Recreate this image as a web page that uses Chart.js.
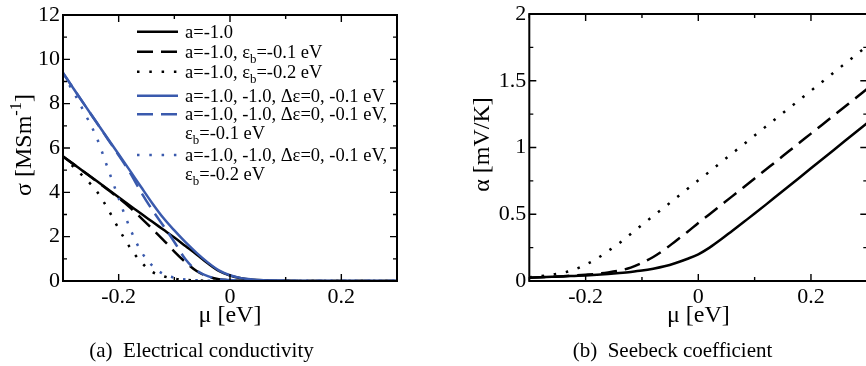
<!DOCTYPE html>
<html>
<head>
<meta charset="utf-8">
<script src="https://cdn.jsdelivr.net/npm/chart.js@4/dist/chart.umd.min.js"></script>
<style>
  html, body { margin: 0; padding: 0; background: #fff; overflow: hidden; width: 866px; height: 366px; }
  canvas { position: absolute; top: 0; }
  #ca { left: 0; }
  #cb { left: 433px; }
</style>
</head>
<body>
<canvas id="ca" width="433" height="366"></canvas>
<canvas id="cb" width="440" height="366"></canvas>
<script>
// chemical potential grid [eV]
const mu = [-0.30, -0.28, -0.26, -0.24, -0.22, -0.20, -0.18, -0.16, -0.14, -0.12, -0.10,
            -0.08, -0.06, -0.04, -0.02, 0.00, 0.02, 0.04, 0.06, 0.08, 0.10,
            0.12, 0.14, 0.16, 0.18, 0.20, 0.22, 0.24, 0.26, 0.28, 0.30];

// electrical conductivity sigma [MS/m]
const sigmaA    = [5.62, 5.25, 4.88, 4.52, 4.15, 3.78, 3.41, 3.04, 2.68, 2.32, 1.96,
                   1.58, 1.20, 0.80, 0.45, 0.24, 0.12, 0.06, 0.03, 0.015, 0.008,
                   0.004, 0.002, 0.001, 0, 0, 0, 0, 0, 0, 0];
const sigmaAb1  = [5.62, 5.25, 4.88, 4.51, 4.13, 3.74, 3.32, 2.85, 2.36, 1.86, 1.33,
                   0.85, 0.45, 0.20, 0.08, 0.03, 0.01, 0, 0, 0, 0,
                   0, 0, 0, 0, 0, 0, 0, 0, 0, 0];
const sigmaAb2  = [5.62, 5.12, 4.62, 4.07, 3.28, 2.36, 1.52, 0.86, 0.42, 0.22, 0.10,
                   0.05, 0.025, 0.012, 0.005, 0, 0, 0, 0, 0, 0,
                   0, 0, 0, 0, 0, 0, 0, 0, 0, 0];
const sigmaB    = [9.38, 8.64, 7.90, 7.17, 6.44, 5.72, 4.99, 4.25, 3.52, 2.85, 2.28,
                   1.75, 1.27, 0.84, 0.48, 0.26, 0.13, 0.07, 0.035, 0.018, 0.009,
                   0.004, 0.002, 0.001, 0, 0, 0, 0, 0, 0, 0];
const sigmaBb1  = [9.38, 8.64, 7.90, 7.16, 6.42, 5.67, 4.90, 4.02, 3.22, 2.50, 1.76,
                   0.98, 0.48, 0.22, 0.09, 0.04, 0.02, 0.01, 0, 0, 0,
                   0, 0, 0, 0, 0, 0, 0, 0, 0, 0];
const sigmaBb2  = [9.30, 8.47, 7.52, 6.50, 5.12, 3.73, 2.40, 1.35, 0.70, 0.32, 0.15,
                   0.07, 0.035, 0.015, 0.007, 0, 0, 0, 0, 0, 0,
                   0, 0, 0, 0, 0, 0, 0, 0, 0, 0];

// Seebeck coefficient alpha [mV/K]
const alphaA    = [0.025, 0.028, 0.031, 0.034, 0.038, 0.042, 0.047, 0.053, 0.060, 0.068, 0.078,
                   0.092, 0.110, 0.135, 0.165, 0.200, 0.250, 0.310, 0.375, 0.440, 0.505,
                   0.572, 0.640, 0.708, 0.776, 0.844, 0.912, 0.980, 1.048, 1.116, 1.184];
const alphaAb1  = [0.025, 0.028, 0.032, 0.036, 0.041, 0.047, 0.054, 0.064, 0.078, 0.100, 0.135,
                   0.180, 0.235, 0.300, 0.365, 0.435, 0.500, 0.567, 0.634, 0.700, 0.768,
                   0.835, 0.902, 0.970, 1.037, 1.104, 1.171, 1.238, 1.305, 1.372, 1.440];
const alphaAb2  = [0.028, 0.036, 0.048, 0.062, 0.085, 0.122, 0.168, 0.225, 0.284, 0.352, 0.420,
                   0.487, 0.553, 0.620, 0.687, 0.754, 0.820, 0.888, 0.955, 1.022, 1.090,
                   1.157, 1.224, 1.291, 1.358, 1.425, 1.492, 1.560, 1.627, 1.694, 1.760];

// legend labels ("_x" is a subscript)
const labels = [
  'a=-1.0',
  'a=-1.0, ε_b=-0.1 eV',
  'a=-1.0, ε_b=-0.2 eV',
  'a=-1.0, -1.0, Δε=0, -0.1 eV',
  ['a=-1.0, -1.0, Δε=0, -0.1 eV,', 'ε_b=-0.1 eV'],
  ['a=-1.0, -1.0, Δε=0, -0.1 eV,', 'ε_b=-0.2 eV']
];

// labelled tick values
const xTickLabels = [-0.2, 0, 0.2];
const sigmaTickLabels = [0, 2, 4, 6, 8, 10, 12];
const alphaTickLabels = [0, 0.5, 1, 1.5, 2];

const SERIF = '"Liberation Serif", "Times New Roman", serif';
const BLACK = '#000000';
const BLUE = '#3a5aad';
const DASH = [16, 8];
const DOT = [2.5, 9.8];

Chart.defaults.font.family = SERIF;
Chart.defaults.color = '#000';

const pts = arr => mu.map((x, i) => ({ x, y: arr[i] }));

function line(label, arr, color, dash, order) {
  return {
    label, data: pts(arr), borderColor: color, borderWidth: 2.5,
    borderDash: dash, borderCapStyle: 'butt', borderJoinStyle: 'round',
    pointRadius: 0, cubicInterpolationMode: 'monotone', fill: false, order
  };
}

// draws text where "_x" is a subscript and "^{..}" a superscript; returns the width
function rich(ctx, text, x, y, size, draw) {
  const parts = text.split(/(_[A-Za-z0-9]|\^\{[^}]*\})/).filter(s => s !== '');
  let w = 0;
  parts.forEach(p => {
    let t = p, s = size, dy = 0;
    if (p[0] === '_') { t = p.slice(1); s = size * 0.7; dy = size * 0.3; }
    else if (p[0] === '^') { t = p.slice(2, -1); s = size * 0.68; dy = -size * 0.42; }
    ctx.font = s + 'px ' + SERIF;
    if (draw) ctx.fillText(t, x + w, y + dy);
    w += ctx.measureText(t).width;
  });
  return w;
}

const decor = {
  id: 'decor',
  afterDatasetsDraw(chart, args, o) {
    const { ctx, chartArea: a } = chart;
    const xs = chart.scales.x, ys = chart.scales.y;
    ctx.save();
    ctx.fillStyle = '#000';
    ctx.strokeStyle = '#000';

    // inward tick marks on all four sides
    ctx.lineWidth = 1.4;
    ctx.beginPath();
    xs.ticks.forEach(t => {
      const p = xs.getPixelForValue(t.value);
      const len = t.label !== '' ? 7 : 4;
      ctx.moveTo(p, a.bottom); ctx.lineTo(p, a.bottom - len);
      ctx.moveTo(p, a.top); ctx.lineTo(p, a.top + len);
    });
    ys.ticks.forEach(t => {
      const p = ys.getPixelForValue(t.value);
      const len = t.label !== '' ? 7 : 4;
      ctx.moveTo(a.left, p); ctx.lineTo(a.left + len, p);
      ctx.moveTo(a.right, p); ctx.lineTo(a.right - len, p);
    });
    ctx.stroke();

    // plot frame
    ctx.lineWidth = 2;
    ctx.strokeRect(a.left, a.top, a.right - a.left, a.bottom - a.top);

    // legend
    if (o.legend) {
      const L = o.legend;
      chart.data.datasets.forEach((ds, i) => {
        const yr = L.rows[i];
        ctx.strokeStyle = ds.borderColor;
        ctx.lineWidth = ds.borderWidth;
        ctx.lineCap = 'butt';
        ctx.setLineDash(ds.borderDash || []);
        ctx.beginPath(); ctx.moveTo(L.x0, yr); ctx.lineTo(L.x1, yr); ctx.stroke();
        ctx.setLineDash([]);
        const lines = Array.isArray(ds.label) ? ds.label : [ds.label];
        ctx.textBaseline = 'alphabetic';
        ctx.textAlign = 'left';
        lines.forEach((ln, k) => rich(ctx, ln, L.tx, yr + L.base + k * L.gap, L.size, true));
      });
    }

    // axis titles
    ctx.textBaseline = 'alphabetic';
    ctx.textAlign = 'left';
    const cx = (a.left + a.right) / 2;
    const wx = rich(ctx, o.xTitle, 0, 0, o.titleSize, false);
    rich(ctx, o.xTitle, cx - wx / 2, o.xTitleY, o.titleSize, true);

    const wy = rich(ctx, o.yTitle, 0, 0, o.titleSize, false);
    ctx.save();
    ctx.translate(o.yTitleX, o.yTitleCY);
    ctx.rotate(-Math.PI / 2);
    rich(ctx, o.yTitle, -wy / 2, 0, o.titleSize, true);
    ctx.restore();

    // sub-figure caption
    const wc = rich(ctx, o.caption, 0, 0, o.captionSize, false);
    rich(ctx, o.caption, o.captionCX - wc / 2, o.captionY, o.captionSize, true);

    ctx.restore();
  }
};

function scales(xLabels, yMin, yMax, yStep, yLabels, yWidth) {
  const tickFont = { family: SERIF, size: 22, lineHeight: 1 };
  const has = (arr, v) => arr.some(t => Math.abs(t - v) < 1e-6);
  return {
    x: {
      type: 'linear', min: -0.3, max: 0.3,
      afterFit: s => { s.height = 85; },
      grid: { display: false, drawTicks: false }, border: { display: false },
      ticks: {
        stepSize: 0.1, autoSkip: false, maxRotation: 0, padding: 5, font: tickFont, color: '#000',
        callback: v => has(xLabels, v) ? String(xLabels.find(t => Math.abs(t - v) < 1e-6)) : ''
      }
    },
    y: {
      type: 'linear', min: yMin, max: yMax,
      afterFit: s => { s.width = yWidth; },
      grid: { display: false, drawTicks: false }, border: { display: false },
      ticks: {
        stepSize: yStep, autoSkip: false, padding: 3, font: tickFont, color: '#000',
        callback: v => has(yLabels, v) ? String(yLabels.find(t => Math.abs(t - v) < 1e-6)) : ''
      }
    }
  };
}

const common = {
  responsive: false, animation: false, devicePixelRatio: 1,
  plugins: { legend: { display: false }, tooltip: { enabled: false } }
};

new Chart(document.getElementById('ca'), {
  type: 'line',
  data: {
    datasets: [
      line(labels[0], sigmaA, BLACK, [], 2),
      line(labels[1], sigmaAb1, BLACK, DASH, 2),
      line(labels[2], sigmaAb2, BLACK, DOT, 2),
      line(labels[3], sigmaB, BLUE, [], 1),
      line(labels[4], sigmaBb1, BLUE, DASH, 1),
      line(labels[5], sigmaBb2, BLUE, DOT, 1)
    ]
  },
  options: {
    ...common,
    layout: { padding: { left: 0, right: 36, top: 15, bottom: 0 } },
    scales: scales(xTickLabels, 0, 12, 1, sigmaTickLabels, 63),
    plugins: {
      ...common.plugins,
      decor: {
        legend: { x0: 137, x1: 178, tx: 185, size: 18.5, base: 6, gap: 18.5,
                  rows: [31.7, 51.7, 71.7, 95.7, 114.3, 155] },
        xTitle: 'μ [eV]', xTitleY: 322,
        yTitle: 'σ [MSm^{-1}]', yTitleX: 31, yTitleCY: 145,
        titleSize: 24,
        caption: '(a)  Electrical conductivity', captionCX: 201.5, captionY: 356.5, captionSize: 21
      }
    }
  },
  plugins: [decor]
});

new Chart(document.getElementById('cb'), {
  type: 'line',
  data: {
    datasets: [
      line(labels[0], alphaA, BLACK, [], 1),
      line(labels[1], alphaAb1, BLACK, DASH, 1),
      line(labels[2], alphaAb2, BLACK, DOT, 1)
    ]
  },
  options: {
    ...common,
    layout: { padding: { left: 0, right: 5.7, top: 11, bottom: 0 } },
    scales: scales(xTickLabels, 0, 2, 0.25, alphaTickLabels, 96.3),
    plugins: {
      ...common.plugins,
      decor: {
        xTitle: 'μ [eV]', xTitleY: 322,
        yTitle: 'α [mV/K]', yTitleX: 56, yTitleCY: 144.5,
        titleSize: 24,
        caption: '(b)  Seebeck coefficient', captionCX: 239.5, captionY: 356.5, captionSize: 21
      }
    }
  },
  plugins: [decor]
});
</script>
</body>
</html>
